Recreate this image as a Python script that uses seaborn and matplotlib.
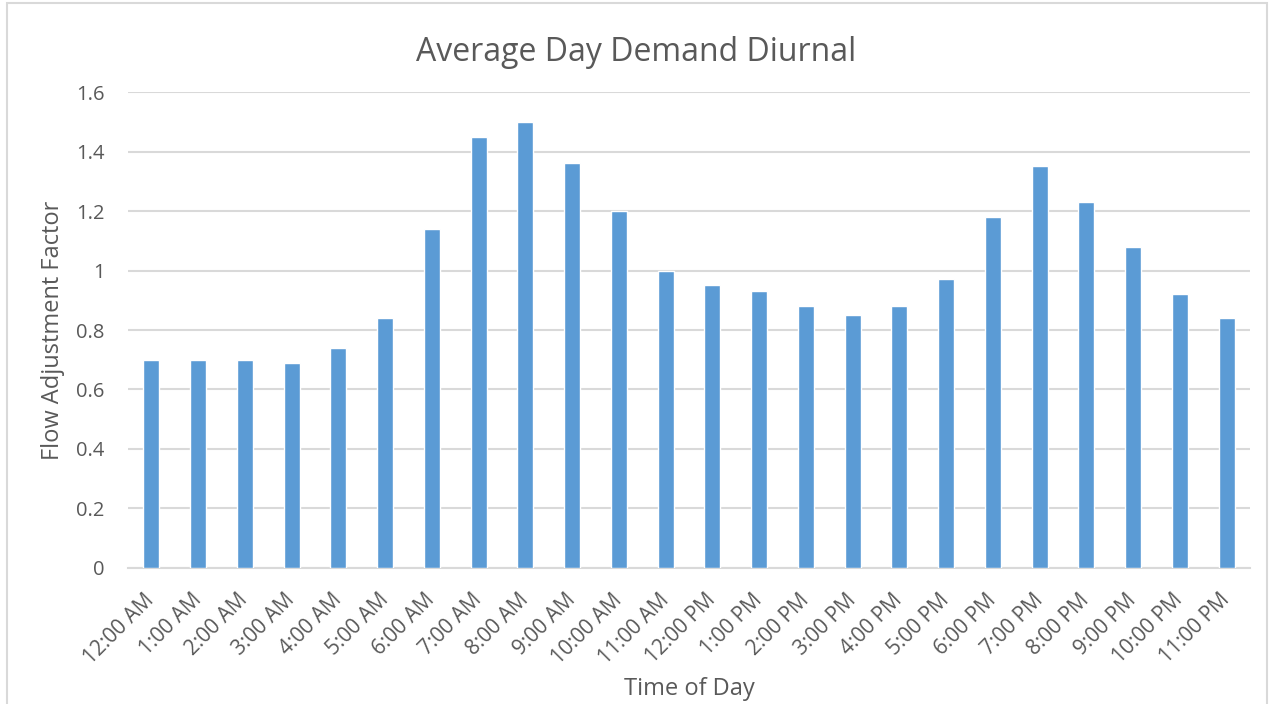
import matplotlib

matplotlib.use("Agg")
import matplotlib.pyplot as plt
import pandas as pd
import seaborn as sns

# data
hours = [
    "12:00 AM", "1:00 AM", "2:00 AM", "3:00 AM", "4:00 AM", "5:00 AM",
    "6:00 AM", "7:00 AM", "8:00 AM", "9:00 AM", "10:00 AM", "11:00 AM",
    "12:00 PM", "1:00 PM", "2:00 PM", "3:00 PM", "4:00 PM", "5:00 PM",
    "6:00 PM", "7:00 PM", "8:00 PM", "9:00 PM", "10:00 PM", "11:00 PM",
]
factors = [
    0.70, 0.70, 0.70, 0.69, 0.74, 0.84,
    1.14, 1.45, 1.50, 1.36, 1.20, 1.00,
    0.95, 0.93, 0.88, 0.85, 0.88, 0.97,
    1.18, 1.35, 1.23, 1.08, 0.92, 0.84,
]
y_ticks = [0, 0.2, 0.4, 0.6, 0.8, 1, 1.2, 1.4, 1.6]
y_tick_labels = ["0", "0.2", "0.4", "0.6", "0.8", "1", "1.2", "1.4", "1.6"]

BAR = "#5B9BD5"
TEXT = "#595959"
GRID = "#D9D9D9"

sns.set_theme(style="white")
plt.rcParams["font.family"] = ["Open Sans", "DejaVu Sans"]

df = pd.DataFrame({"Time of Day": hours, "Flow Adjustment Factor": factors})

fig = plt.figure(figsize=(12.72, 7.04), dpi=100)
ax = fig.add_axes([0.1006, 0.1932, 0.8821, 0.6761])

sns.barplot(data=df, x="Time of Day", y="Flow Adjustment Factor",
            color=BAR, saturation=1, width=0.34, ax=ax, zorder=3)

ax.set_ylim(0, 1.6)
ax.set_xlim(-0.5, len(hours) - 0.5)
ax.set_yticks(y_ticks)
ax.set_yticklabels(y_tick_labels)
ax.yaxis.grid(True, color=GRID, linewidth=1.5, zorder=0)
ax.set_axisbelow(True)
for s in ["top", "right", "left"]:
    ax.spines[s].set_visible(False)
ax.spines["bottom"].set_color(GRID)
ax.spines["bottom"].set_linewidth(1.5)

ax.tick_params(axis="both", length=0, colors=TEXT)
ax.tick_params(axis="y", pad=17, labelsize=14.5)
ax.tick_params(axis="x", pad=21, labelsize=15)
plt.setp(ax.get_xticklabels(), rotation=45, ha="right", va="center",
         rotation_mode="anchor")

ax.set_xlabel("Time of Day", color=TEXT, fontsize=17, labelpad=6)
ax.set_ylabel("Flow Adjustment Factor", color=TEXT, fontsize=17, labelpad=8)
fig.text(0.5, 1 - 61 / 704, "Average Day Demand Diurnal", color=TEXT,
         fontsize=23, ha="center", va="baseline")

# light border round the chart area
fig.patches.append(plt.Rectangle((7 / 1272, -0.02), 1260 / 1272, 1.016,
                                 transform=fig.transFigure, fill=False,
                                 edgecolor=GRID, linewidth=1.5))

fig.savefig("out.png", dpi=100)
